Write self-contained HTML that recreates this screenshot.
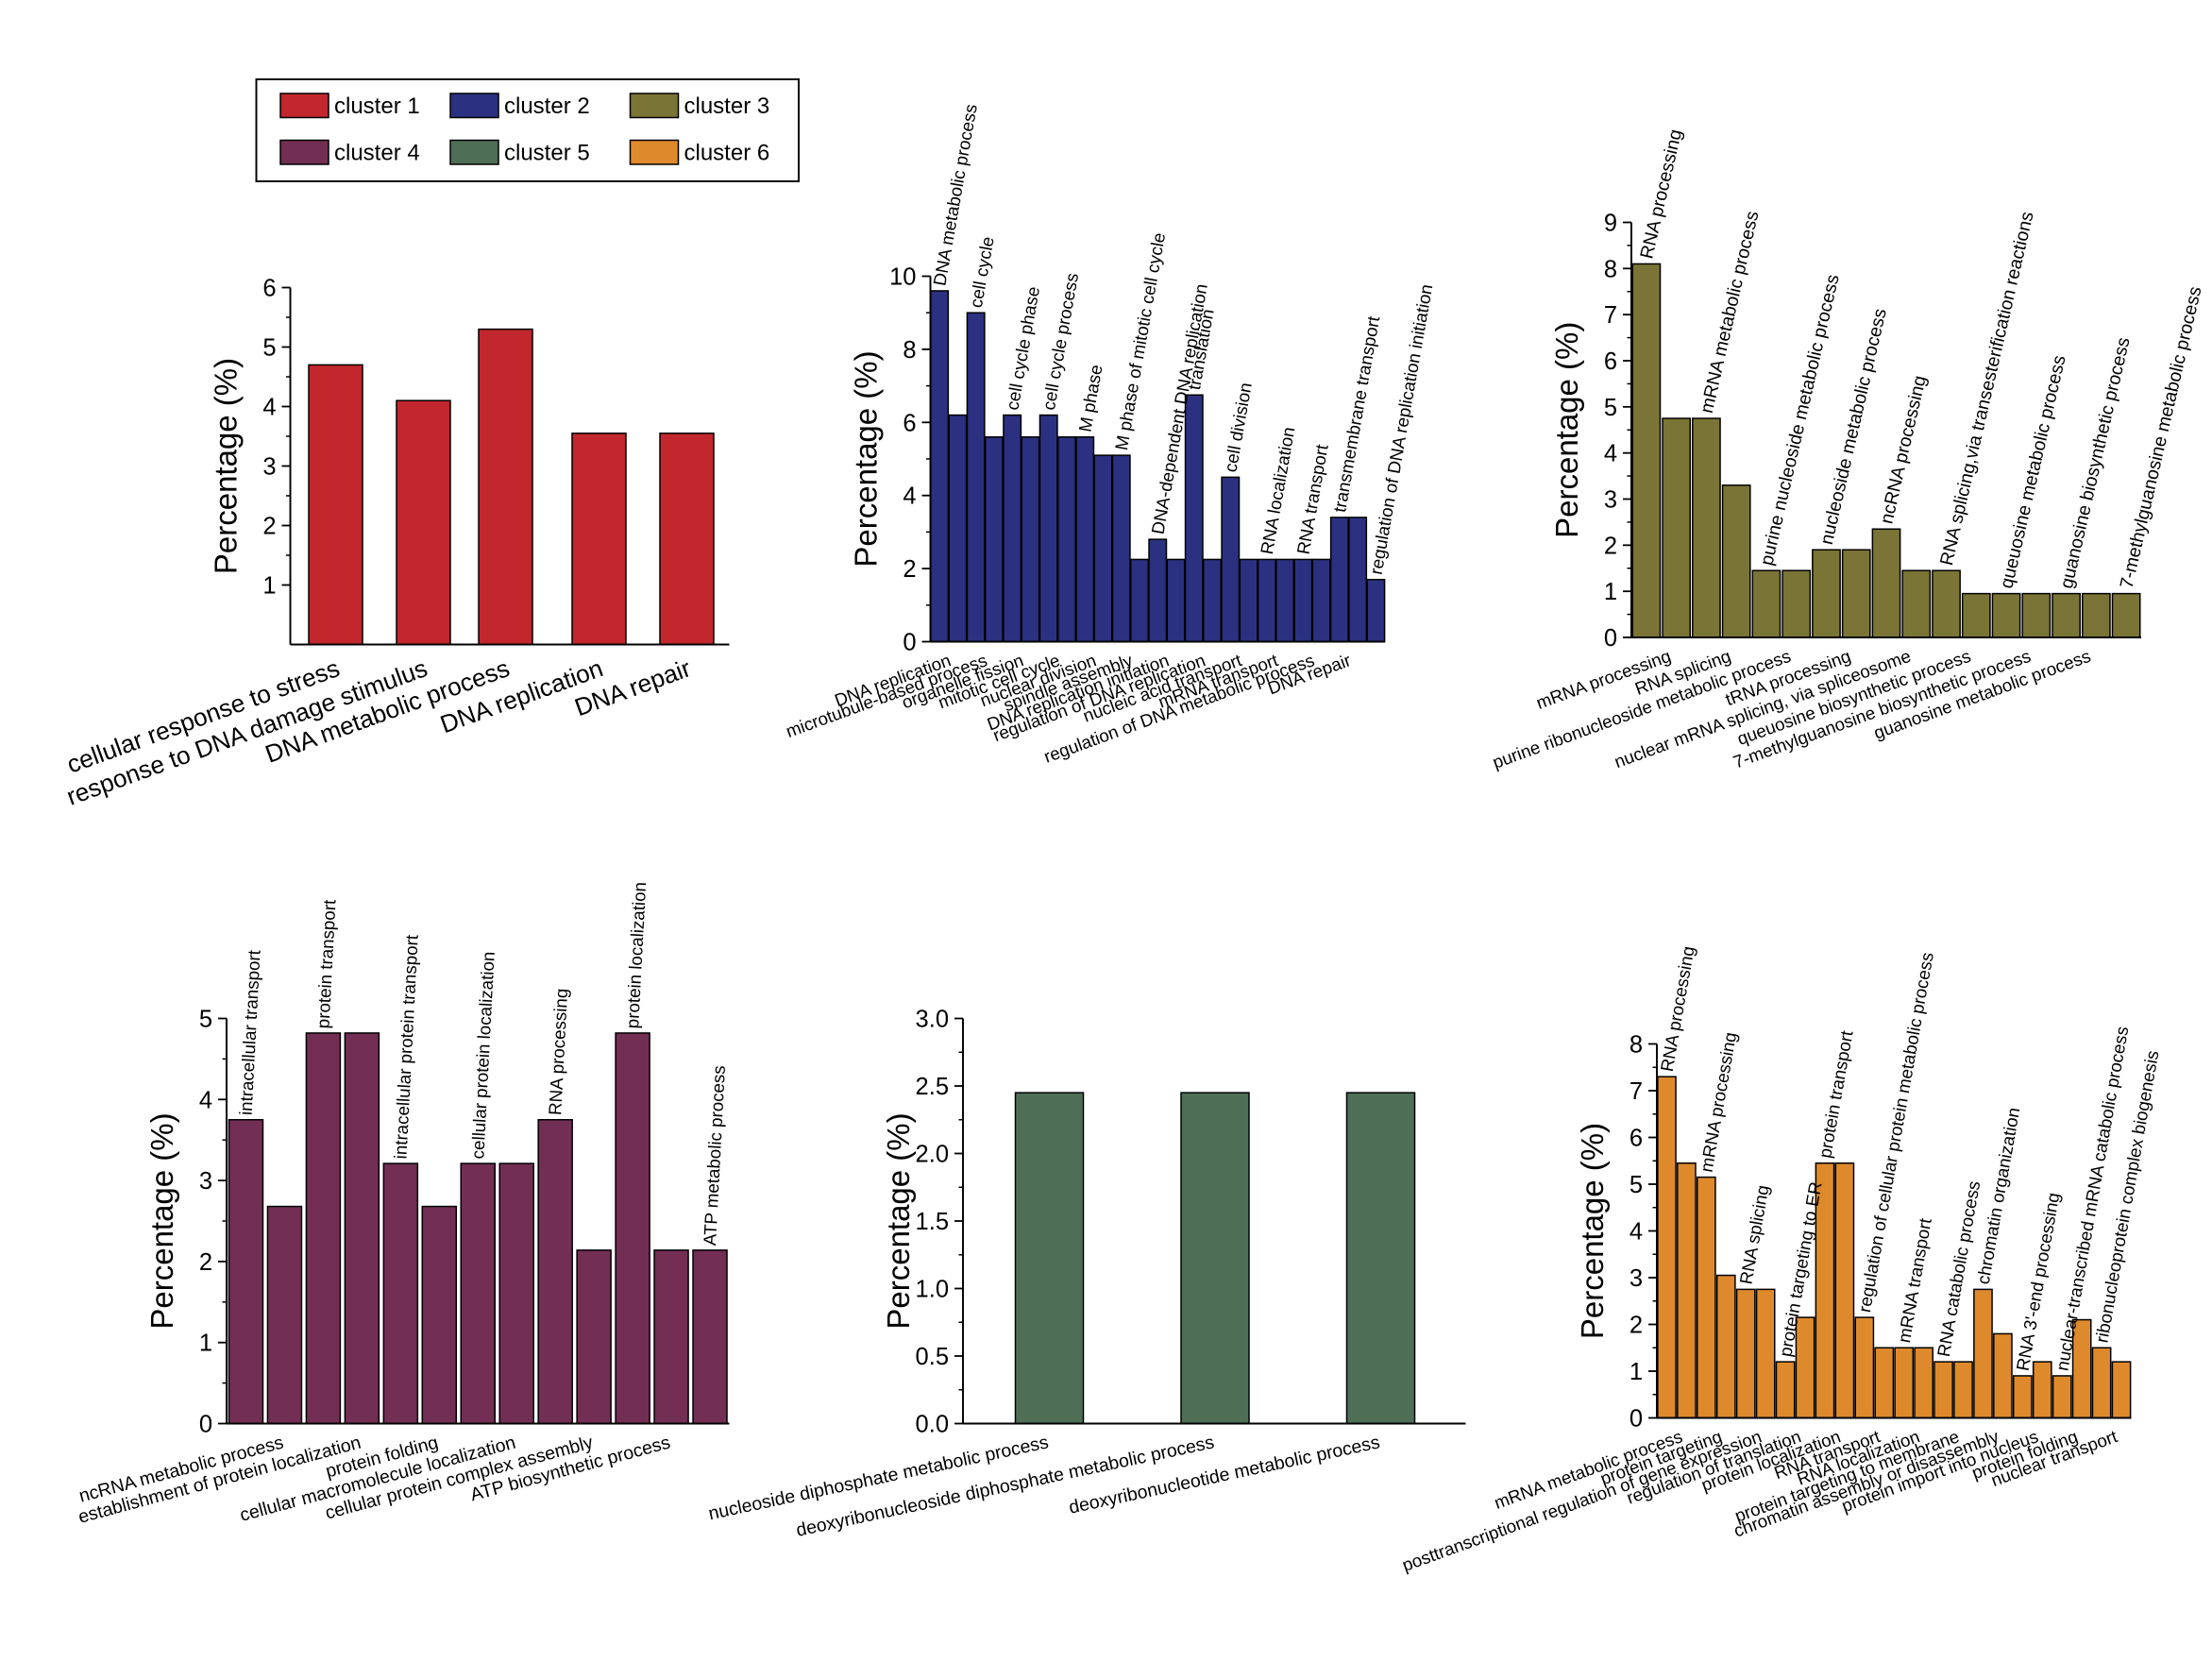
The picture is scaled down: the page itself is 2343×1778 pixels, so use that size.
<!DOCTYPE html>
<html><head><meta charset="utf-8"><style>
html,body{margin:0;padding:0;background:#fff}
svg{display:block;font-family:"Liberation Sans",Arial,sans-serif}
</style></head><body>
<svg id="c" width="2343" height="1778" viewBox="0 0 1562 1185.33" xmlns="http://www.w3.org/2000/svg">
<g>
<rect x="181" y="56" width="383" height="72" fill="#fff" stroke="#000" stroke-width="1.3"/>
<rect x="198" y="66" width="34" height="17" fill="#c1272d" stroke="#000"/><text x="236" y="80" font-size="16">cluster 1</text>
<rect x="318" y="66" width="34" height="17" fill="#2b3180" stroke="#000"/><text x="356" y="80" font-size="16">cluster 2</text>
<rect x="445" y="66" width="34" height="17" fill="#7a7436" stroke="#000"/><text x="483" y="80" font-size="16">cluster 3</text>
<rect x="198" y="99" width="34" height="17" fill="#722e53" stroke="#000"/><text x="236" y="113" font-size="16">cluster 4</text>
<rect x="318" y="99" width="34" height="17" fill="#4f6e56" stroke="#000"/><text x="356" y="113" font-size="16">cluster 5</text>
<rect x="445" y="99" width="34" height="17" fill="#de8a2c" stroke="#000"/><text x="483" y="113" font-size="16">cluster 6</text>
</g>
</svg>
<script>
// ---- data ----
const p1Values=[4.7,4.1,5.3,3.55,3.55];
const p1Labels=["cellular response to stress","response to DNA damage stimulus","DNA metabolic process","DNA replication","DNA repair"];
const p1Ticks=[1,2,3,4,5,6];

const p2Values=[9.6,6.2,9.0,5.6,6.2,5.6,6.2,5.6,5.6,5.1,5.1,2.25,2.8,2.25,6.75,2.25,4.5,2.25,2.25,2.25,2.25,2.25,3.4,3.4,1.7];
const p2Top=["DNA metabolic process","cell cycle","cell cycle phase","cell cycle process","M phase","M phase of mitotic cell cycle","DNA-dependent DNA replication","translation","cell division","RNA localization","RNA transport","transmembrane transport","regulation of DNA replication initiation"];
const p2Bottom=["DNA replication","microtubule-based process","organelle fission","mitotic cell cycle","nuclear division","spindle assembly","DNA replication initiation","regulation of DNA replication","nucleic acid transport","mRNA transport","regulation of DNA metabolic process","DNA repair"];
const p2Ticks=[0,2,4,6,8,10];

const p3Values=[8.1,4.75,4.75,3.3,1.45,1.45,1.9,1.9,2.35,1.45,1.45,0.95,0.95,0.95,0.95,0.95,0.95];
const p3Top=["RNA processing","mRNA metabolic process","purine nucleoside metabolic process","nucleoside metabolic process","ncRNA processing","RNA splicing,via transesterification reactions","queuosine metabolic process","guanosine biosynthetic process","7-methylguanosine metabolic process"];
const p3Bottom=["mRNA processing","RNA splicing","purine ribonucleoside metabolic process","tRNA processing","nuclear mRNA splicing, via spliceosome","queuosine biosynthetic process","7-methylguanosine biosynthetic process","guanosine metabolic process"];
const p3Ticks=[0,1,2,3,4,5,6,7,8,9];

const p4Values=[3.75,2.68,4.82,4.82,3.21,2.68,3.21,3.21,3.75,2.14,4.82,2.14,2.14];
const p4Top=["intracellular transport","protein transport","intracellular protein transport","cellular protein localization","RNA processing","protein localization","ATP metabolic process"];
const p4Bottom=["ncRNA metabolic process","establishment of protein localization","protein folding","cellular macromolecule localization","cellular protein complex assembly","ATP biosynthetic process"];
const p4Ticks=[0,1,2,3,4,5];

const p5Values=[2.45,2.45,2.45];
const p5Labels=["nucleoside diphosphate metabolic process","deoxyribonucleoside diphosphate metabolic process","deoxyribonucleotide metabolic process"];
const p5Ticks=["0.0","0.5","1.0","1.5","2.0","2.5","3.0"];

const p6Values=[7.3,5.45,5.15,3.05,2.75,2.75,1.2,2.15,5.45,5.45,2.15,1.5,1.5,1.5,1.2,1.2,2.75,1.8,0.9,1.2,0.9,2.1,1.5,1.2];
const p6Top=["RNA processing","mRNA processing","RNA splicing","protein targeting to ER","protein transport","regulation of cellular protein metabolic process","mRNA transport","RNA catabolic process","chromatin organization","RNA 3'-end processing","nuclear-transcribed mRNA catabolic process","ribonucleoprotein complex biogenesis"];
const p6Bottom=["mRNA metabolic process","protein targeting","posttranscriptional regulation of gene expression","regulation of translation","protein localization","RNA transport","RNA localization","protein targeting to membrane","chromatin assembly or disassembly","protein import into nucleus","protein folding","nuclear transport"];
const p6Ticks=[0,1,2,3,4,5,6,7,8];

const NS="http://www.w3.org/2000/svg";
const svg=document.getElementById('c');
function mk(tag,attrs,parent){const e=document.createElementNS(NS,tag);for(const k in attrs)e.setAttribute(k,attrs[k]);parent.appendChild(e);return e;}

function panel(o){
  const g=mk('g',{},svg);
  
  
  const y=v=>o.y0-(v-o.vmin)/(o.vmax-o.vmin)*(o.y0-o.y1);
  const n=o.values.length;
  const step=(o.x1-o.x0)/n;
  const cx=i=>o.centers?o.centers[i]:o.x0+step*(i+0.5);
  const bw=o.bw||step;
  o.values.forEach((v,i)=>{
    const r=mk('rect',{x:cx(i)-bw/2,y:y(v),width:bw,height:o.y0-y(v),fill:o.color,stroke:'#000','stroke-width':1},g);
    
    
  });
  mk('line',{x1:o.x0,y1:o.y0,x2:o.x1,y2:o.y0,stroke:'#000','stroke-width':1.3},g);
  mk('line',{x1:o.x0,y1:o.y0,x2:o.x0,y2:o.y1,stroke:'#000','stroke-width':1.3},g);
  o.ticks.forEach(t=>{
    const yy=y(parseFloat(t));
    mk('line',{x1:o.x0-6,y1:yy,x2:o.x0,y2:yy,stroke:'#000','stroke-width':1.2},g);
    const tx=mk('text',{x:o.x0-10,y:yy+6,'font-size':17,'text-anchor':'end'},g);
    tx.textContent=t;
    
    
  });
  for(let k=0;k<o.ticks.length-1;k++){
    const a=parseFloat(o.ticks[k]),b=parseFloat(o.ticks[k+1]);
    const yy=y((a+b)/2);
    mk('line',{x1:o.x0-3,y1:yy,x2:o.x0,y2:yy,stroke:'#000','stroke-width':1},g);
  }
  const yl=mk('text',{x:0,y:0,'font-size':22,'text-anchor':'middle',transform:`translate(${o.x0-38},${(o.y0+o.y1)/2}) rotate(-90)`},g);
  yl.textContent='Percentage (%)';
  
  
  o.bottom.forEach((s,k)=>{
    const i=o.bIdx(k);
    const t=mk('text',{x:0,y:0,'font-size':o.bfs,'text-anchor':'end',transform:`translate(${cx(i)+o.bdx},${o.y0+o.bfs+4}) rotate(${o.bang})`},g);
    t.textContent=s;
    
    
  });
  (o.top||[]).forEach((s,k)=>{
    const i=o.tIdx(k);
    const t=mk('text',{x:0,y:0,'font-size':o.tfs,'text-anchor':'start',transform:`translate(${cx(i)+4},${y(o.values[i])-3}) rotate(${o.tang})`},g);
    t.textContent=s;
    
    
  });
}

panel({name:'cluster-1-chart',values:p1Values,bottom:p1Labels,ticks:p1Ticks,color:'#c1272d',
  x0:205,x1:515,y0:455,y1:203,vmin:0,vmax:6,centers:[237,299,357,423,485],bw:38,
  bIdx:k=>k,bfs:17.5,bang:-20,bdx:4});
panel({name:'cluster-2-chart',values:p2Values,bottom:p2Bottom,top:p2Top,ticks:p2Ticks,color:'#2b3180',
  x0:657,x1:978,y0:453,y1:195,vmin:0,vmax:10,bw:12.3,
  bIdx:k=>2*k+1,bfs:12.5,bang:-20,bdx:-4,tIdx:k=>2*k,tfs:12.5,tang:-80});
panel({name:'cluster-3-chart',values:p3Values,bottom:p3Bottom,top:p3Top,ticks:p3Ticks,color:'#7a7436',
  x0:1152,x1:1512,y0:450,y1:157,vmin:0,vmax:9,bw:19.5,
  bIdx:k=>2*k+1,bfs:12.5,bang:-20,bdx:-3,tIdx:k=>2*k,tfs:13,tang:-77});
panel({name:'cluster-4-chart',values:p4Values,bottom:p4Bottom,top:p4Top,ticks:p4Ticks,color:'#722e53',
  x0:160,x1:515,y0:1005,y1:719,vmin:0,vmax:5,bw:24,
  bIdx:k=>2*k+1,bfs:13,bang:-15,bdx:0,tIdx:k=>2*k,tfs:12.5,tang:-87});
panel({name:'cluster-5-chart',values:p5Values,bottom:p5Labels,ticks:p5Ticks,color:'#4f6e56',
  x0:680,x1:1035,y0:1005,y1:719,vmin:0,vmax:3,centers:[741,858,975],bw:48,
  bIdx:k=>k,bfs:13,bang:-12,bdx:0});
panel({name:'cluster-6-chart',values:p6Values,bottom:p6Bottom,top:p6Top,ticks:p6Ticks,color:'#de8a2c',
  x0:1170,x1:1505,y0:1001,y1:737,vmin:0,vmax:8,bw:12.8,
  bIdx:k=>2*k+1,bfs:12.5,bang:-20,bdx:-2,tIdx:k=>2*k,tfs:12.5,tang:-80});
</script>
</body></html>
